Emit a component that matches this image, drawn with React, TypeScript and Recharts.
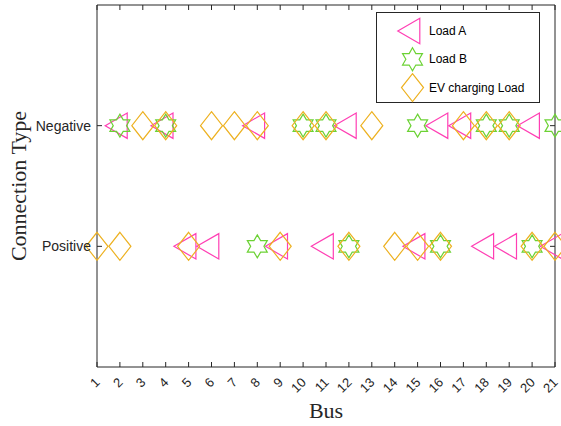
import React from "react";
import { ScatterChart, Scatter, XAxis, YAxis, ReferenceArea, Legend } from "recharts";

// bus numbers on the x axis
const buses = [1, 2, 3, 4, 5, 6, 7, 8, 9, 10, 11, 12, 13, 14, 15, 16, 17, 18, 19, 20, 21];
// y = 1 -> Positive, y = 2 -> Negative
const connectionLabels: Record<number, string> = { 1: "Positive", 2: "Negative" };
const connectionTicks = [1, 2];

const loadANegative = [2, 4, 8, 12, 16, 17, 20];
const loadAPositive = [5, 6, 9, 11, 15, 18, 19, 21];
const loadBNegative = [2, 4, 10, 11, 15, 18, 19, 21];
const loadBPositive = [8, 12, 16, 20];
const evNegative = [3, 4, 6, 7, 8, 10, 11, 13, 17, 18, 19];
const evPositive = [1, 2, 5, 9, 12, 14, 15, 16, 20, 21];

const PINK = "#FF3FB4";
const GREEN = "#6CD234";
const ORANGE = "#EDB120";
const AXIS = "#262626";
const SANS = "'Liberation Sans', Arial, sans-serif";
const SERIF = "'Liberation Serif', 'Times New Roman', serif";

// plot box edges (px)
const PLOT = { left: 97, right: 555, top: 5, bottom: 367 };

const toPoints = (neg: number[], pos: number[]) => [
  ...neg.map((bus) => ({ bus, conn: 2 })),
  ...pos.map((bus) => ({ bus, conn: 1 })),
];

const triangle = (cx: number, cy: number) => (
  <polygon
    points={`${cx - 14.7},${cy} ${cx + 7.3},${cy - 12.7} ${cx + 7.3},${cy + 12.7}`}
    fill="none"
    stroke={PINK}
    strokeWidth={1.2}
  />
);

const hexagram = (cx: number, cy: number) => {
  const pts: string[] = [];
  for (let i = 0; i < 12; i++) {
    const r = i % 2 === 0 ? 11.5 : 6.64;
    const a = ((-90 + i * 30) * Math.PI) / 180;
    pts.push(`${cx + r * Math.cos(a)},${cy + r * Math.sin(a)}`);
  }
  return <polygon points={pts.join(" ")} fill="none" stroke={GREEN} strokeWidth={1.2} />;
};

const diamond = (cx: number, cy: number) => (
  <polygon
    points={`${cx},${cy - 14} ${cx + 11},${cy} ${cx},${cy + 14} ${cx - 11},${cy}`}
    fill="none"
    stroke={ORANGE}
    strokeWidth={1.2}
  />
);

const series = [
  { name: "Load A", data: toPoints(loadANegative, loadAPositive), draw: triangle },
  { name: "Load B", data: toPoints(loadBNegative, loadBPositive), draw: hexagram },
  { name: "EV charging Load", data: toPoints(evNegative, evPositive), draw: diamond },
];

const BusTick = (props: any) => {
  const { x, payload } = props;
  return (
    <g>
      <line x1={x} x2={x} y1={PLOT.bottom} y2={PLOT.bottom - 5} stroke={AXIS} />
      <line x1={x} x2={x} y1={PLOT.top} y2={PLOT.top + 5} stroke={AXIS} />
      <text
        transform={`translate(${x + 0.5},${PLOT.bottom + 13}) rotate(-45)`}
        textAnchor="end"
        dominantBaseline="central"
        fontFamily={SANS}
        fontSize={13}
        fill={AXIS}
      >
        {payload.value}
      </text>
    </g>
  );
};

const ConnTick = (props: any) => {
  const { y, payload } = props;
  return (
    <g>
      <line x1={PLOT.left} x2={PLOT.left + 5} y1={y} y2={y} stroke={AXIS} />
      <line x1={PLOT.right} x2={PLOT.right - 5} y1={y} y2={y} stroke={AXIS} />
      <text
        x={PLOT.left - 6}
        y={y}
        textAnchor="end"
        dominantBaseline="central"
        fontFamily={SANS}
        fontSize={14}
        fill={AXIS}
      >
        {connectionLabels[payload.value]}
      </text>
    </g>
  );
};

const LegendBox = () => (
  <svg width={164} height={91} style={{ display: "block" }}>
    <rect x={0.5} y={0.5} width={163} height={90} fill="#fff" stroke={AXIS} />
    {series.map((s, i) => {
      const cy = 19 + i * 28.3;
      return (
        <g key={s.name}>
          {s.draw(36.5, cy)}
          <text x={53} y={cy} dominantBaseline="central" fontFamily={SANS} fontSize={12} fill="#000">
            {s.name}
          </text>
        </g>
      );
    })}
  </svg>
);

export default function App() {
  return (
    <div style={{ position: "absolute", left: 0, top: 0, width: 561, height: 426, background: "#fff" }}>
      <ScatterChart width={561} height={426} margin={{ top: 5, right: 6, bottom: 0, left: 0 }}>
        <XAxis
          dataKey="bus"
          type="number"
          domain={[1, 21]}
          ticks={buses}
          interval={0}
          height={59}
          axisLine={false}
          tickLine={false}
          tick={<BusTick />}
          label={{ value: "Bus", position: "insideBottom", offset: 8, fontFamily: SERIF, fontSize: 22, fill: AXIS }}
        />
        <YAxis
          dataKey="conn"
          type="number"
          domain={[0, 3]}
          ticks={connectionTicks}
          width={97}
          axisLine={false}
          tickLine={false}
          tick={<ConnTick />}
          label={{
            value: "Connection Type",
            angle: -90,
            position: "insideLeft",
            offset: 10,
            dx: 8,
            style: { textAnchor: "middle" },
            fontFamily: SERIF,
            fontSize: 22,
            fill: AXIS,
          }}
        />
        <ReferenceArea x1={1} x2={21} y1={0} y2={3} fill="none" stroke={AXIS} strokeOpacity={1} ifOverflow="visible" />
        {series.map((s) => (
          <Scatter
            key={s.name}
            name={s.name}
            data={s.data}
            isAnimationActive={false}
            shape={(p: any) => s.draw(p.cx, p.cy)}
          />
        ))}
        <Legend
          layout="vertical"
          align="center"
          verticalAlign="middle"
          content={<LegendBox />}
          wrapperStyle={{ left: 376, top: 12, width: 164, height: 91 }}
        />
      </ScatterChart>
    </div>
  );
}
